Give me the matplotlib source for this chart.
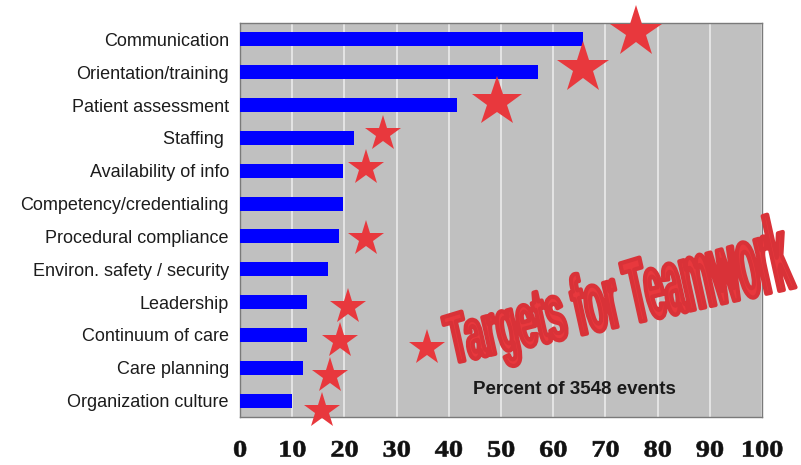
import numpy as np
import matplotlib
matplotlib.use("Agg")
import matplotlib.pyplot as plt
from matplotlib.patheffects import AbstractPathEffect
from matplotlib.path import Path

# ---------------- data ----------------
categories = ["Communication", "Orientation/training", "Patient assessment", "Staffing ",
              "Availability of info", "Competency/credentialing", "Procedural compliance",
              "Environ. safety / security", "Leadership", "Continuum of care",
              "Care planning", "Organization culture"]
percent = [65.7, 57.0, 41.6, 21.8, 19.8, 19.8, 19.0, 16.8, 12.9, 12.9, 12.0, 10.0]

# stars ("targets"): value on the percent axis and row position
star_values = [75.9, 65.7, 49.2, 27.4, 24.1, 24.1, 20.7, 19.2, 17.2, 15.7, 35.8]
star_rows = [-0.24, 0.87, 1.92, 2.88, 3.91, 6.09, 8.15, 9.20, 10.25, 11.33, 9.41]

xticks = [0, 10, 20, 30, 40, 50, 60, 70, 80, 90, 100]
xtick_labels = [str(v) for v in xticks]
banner_text = "Targets for Teamwork"
note_text = "Percent of 3548 events"

# ---------------- style ----------------
BAR_COLOR = "#0000ff"
STAR_COLOR = "#e8383d"
BG = "#c0c0c0"
STAR_MS = [39, 39, 38, 27, 27, 27, 27, 27, 27, 27, 27]


class Warp(AbstractPathEffect):
    """Draw a text path stretched in its own (unrotated) frame."""

    def __init__(self, sx=1.0, sy0=1.0, sy1=1.0, about="center", edge=None, lw=0.0):
        super().__init__()
        self.sx, self.sy0, self.sy1, self.about = sx, sy0, sy1, about
        self.edge, self.lw = edge, lw

    def draw_path(self, renderer, gc, tpath, affine, rgbFace=None):
        v = np.array(tpath.vertices, dtype=float)
        if len(v) == 0:
            return
        x0, x1 = v[:, 0].min(), v[:, 0].max()
        span = max(x1 - x0, 1e-9)
        t = (v[:, 0] - x0) / span
        v[:, 1] = v[:, 1] * (self.sy0 + (self.sy1 - self.sy0) * t)
        xc = 0.5 * (x0 + x1) if self.about == "center" else 0.0
        v[:, 0] = xc + (v[:, 0] - xc) * self.sx
        path = Path(v, tpath.codes)
        gc0 = renderer.new_gc()
        gc0.copy_properties(gc)
        if self.edge is not None and self.lw > 0:
            gc0.set_linewidth(self.lw)
            gc0.set_foreground(self.edge)
        renderer.draw_path(gc0, path, affine, rgbFace)
        gc0.restore()


fig = plt.figure(figsize=(8.01, 4.65), dpi=100)
W, H = 801, 465
ax = fig.add_axes([240 / W, 1 - 417 / H, 522 / W, 394 / H])
ax.set_facecolor(BG)

ypos = np.arange(len(categories))
ax.barh(ypos, percent, height=0.43, color=BAR_COLOR, zorder=3)

ax.set_xlim(0, 100)
ax.set_ylim(len(categories) - 0.5, -0.5)
ax.set_xticks(xticks)
ax.set_xticklabels(xtick_labels, fontfamily="Liberation Serif", fontweight="bold",
                   fontsize=17, color="#111111")
ax.set_yticks(ypos)
ax.set_yticklabels(categories, fontfamily="Liberation Sans", fontsize=13, color="#1c1c1c")
ax.tick_params(axis="both", length=0)
ax.tick_params(axis="x", pad=17)
ax.tick_params(axis="y", pad=8)
ax.grid(axis="x", color="#e4e4e4", linewidth=1.4, zorder=1)
ax.set_axisbelow(True)
for s in ax.spines.values():
    s.set_color("#7a7a7a")
    s.set_linewidth(1.0)

for lab in ax.get_xticklabels():
    lab.set_path_effects([Warp(sx=1.2, edge="#111111", lw=0.4)])

# stars
for xv, yv, ms in zip(star_values, star_rows, STAR_MS):
    ax.plot([xv], [yv], marker="*", markersize=ms, color=STAR_COLOR,
            markeredgewidth=0, linestyle="none", zorder=5, clip_on=False)

# note text
ax.text(64, 10.79, note_text, ha="center", va="baseline", fontsize=13.5,
        fontweight="bold", fontfamily="Liberation Sans", color="#1a1a1a", zorder=6)

# banner text (WordArt-like)
ax.text(40.6, 9.87, banner_text, ha="left", va="baseline", rotation=12.5,
        rotation_mode="anchor", fontsize=24.6, fontweight="bold",
        fontfamily="Liberation Sans", color=STAR_COLOR, zorder=6, clip_on=False,
        path_effects=[Warp(sx=1.0, sy0=2.0, sy1=3.15, about="left",
                           edge="#d93238", lw=3.0)])

fig.savefig("out.png", dpi=100, facecolor="white")
